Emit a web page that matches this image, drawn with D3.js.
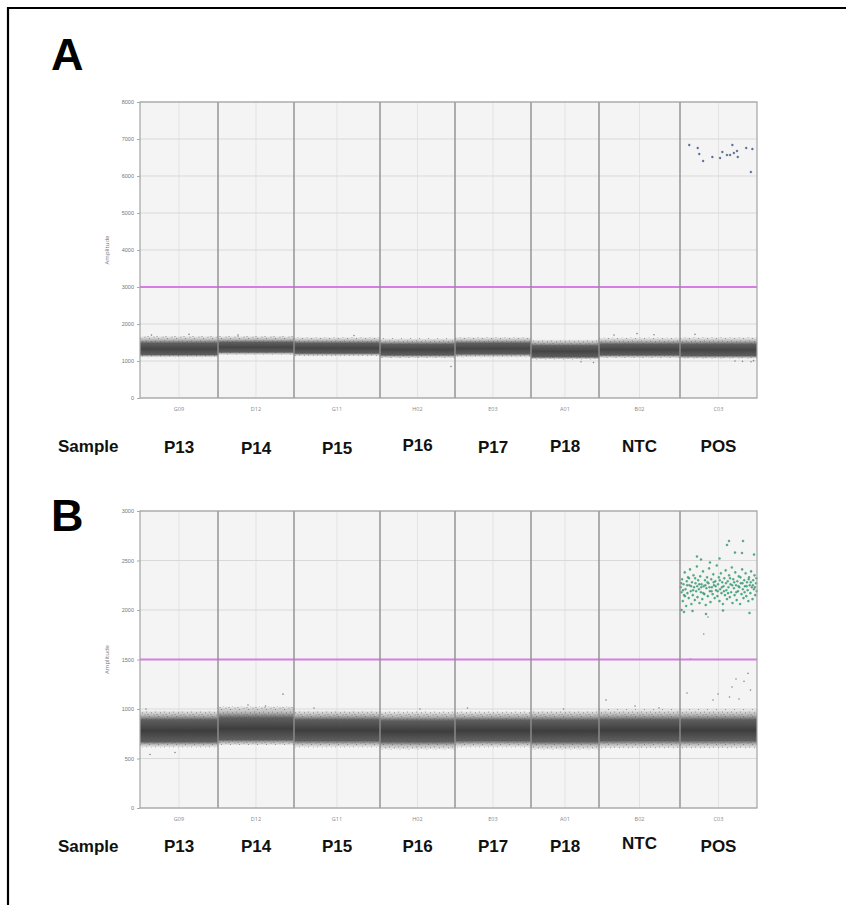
<!DOCTYPE html>
<html>
<head>
<meta charset="utf-8">
<script src="https://cdn.jsdelivr.net/npm/d3@7"></script>
<style>
  body { margin: 0; background: #fff; }
  svg { display: block; }
</style>
</head>
<body>
<div id="chart"></div>
<script>
// wells on the x axis (droplet event counts per well)
const wells = ['G09', 'D12', 'G11', 'H02', 'E03', 'A01', 'B02', 'C03'];
const samples = ['P13', 'P14', 'P15', 'P16', 'P17', 'P18', 'NTC', 'POS'];
const eventCounts = [15600, 15200, 17200, 15000, 15200, 13600, 16200, 15400];

// panel A: negative droplet band per well [low, coreLow, coreHigh, high]
const bandA = [
  [1100, 1170, 1480, 1680], [1160, 1240, 1500, 1680], [1130, 1210, 1480, 1650],
  [1080, 1160, 1450, 1620], [1100, 1190, 1480, 1650], [1040, 1110, 1410, 1590],
  [1080, 1160, 1450, 1640], [1060, 1140, 1450, 1650]
];
const thresholdA = 3000;
const yTicksA = [0, 1000, 2000, 3000, 4000, 5000, 6000, 7000, 8000];
// positive droplets in POS well (event number inside well, amplitude)
const positivesA = [
  [1850, 6838], [3540, 6757], [3850, 6595], [4620, 6405], [6470, 6514], [8010, 6486],
  [8470, 6649], [9390, 6568], [10010, 6568], [10470, 6838], [10780, 6622], [11400, 6676],
  [11550, 6514], [13240, 6757], [14480, 6730], [14170, 6108]
];
// stray negatives (well index, event number inside well, amplitude)
const strayA = [
  [0, 2300, 1700], [0, 9800, 1720], [1, 4000, 1700], [2, 12000, 1690], [3, 14200, 850],
  [5, 12500, 960], [5, 10000, 980], [6, 7600, 1740], [6, 11000, 1710], [6, 3000, 1700],
  [7, 3000, 1720], [7, 11000, 1000], [7, 12500, 990], [7, 14200, 980], [7, 14700, 1010]
];

// panel B
const bandB = [
  [610, 670, 890, 990], [630, 690, 910, 1030], [610, 680, 890, 990],
  [590, 670, 880, 980], [610, 680, 885, 980], [590, 670, 885, 990],
  [600, 680, 890, 1000], [600, 680, 890, 1000]
];
const thresholdB = 1500;
const yTicksB = [0, 500, 1000, 1500, 2000, 2500, 3000];
const positivesB = [
  [150,2230],[300,2180],[420,2310],[560,2090],[700,2260],[820,2150],[950,2380],[1100,2210],
  [1230,2040],[1350,2290],[1480,2170],[1600,2330],[1750,2120],[1880,2250],[2000,2410],[2150,2190],
  [2280,2060],[2400,2280],[2550,2150],[2700,2350],[2820,2230],[2960,2100],[3100,2270],[3230,2190],
  [3370,2440],[3500,2130],[3640,2300],[3780,2210],[3900,2070],[4050,2340],[4180,2180],[4320,2260],
  [4460,2110],[4600,2390],[4730,2240],[4870,2160],[5000,2300],[5150,2050],[5280,2220],[5420,2330],
  [5560,2140],[5700,2270],[5830,2420],[5970,2190],[6100,2080],[6250,2310],[6380,2230],[6520,2160],
  [6660,2360],[6800,2250],[6930,2120],[7070,2290],[7200,2200],[7350,2450],[7480,2140],[7620,2260],
  [7760,2330],[7900,2090],[8030,2210],[8170,2370],[8300,2170],[8450,2280],[8580,2060],[8720,2240],
  [8860,2320],[9000,2150],[9130,2400],[9270,2200],[9400,2110],[9550,2290],[9680,2230],[9820,2350],
  [9960,2130],[10100,2260],[10230,2180],[10370,2430],[10500,2070],[10650,2310],[10780,2220],[10920,2150],
  [11060,2380],[11200,2250],[11330,2100],[11470,2290],[11600,2190],[11750,2340],[11880,2230],[12020,2060],
  [12160,2270],[12300,2160],[12430,2410],[12570,2210],[12700,2120],[12850,2300],[12980,2240],[13120,2370],
  [13260,2140],[13400,2280],[13530,2200],[13670,2090],[13810,2330],[13950,2250],[14080,2170],[14220,2390],
  [14360,2230],[14500,2110],[14630,2300],[14770,2210],[14900,2350],[15050,2150],[15200,2270],[15330,2190],
  [230,2270],[610,2200],[1000,2140],[1420,2250],[1820,2320],[2230,2240],[2620,2200],[3030,2320],
  [3440,2240],[3850,2260],[4250,2230],[4660,2170],[5070,2250],[5490,2280],[5900,2230],[6310,2190],
  [6730,2280],[7140,2240],[7550,2190],[7960,2300],[8380,2230],[8790,2190],[9200,2270],[9610,2170],
  [10020,2320],[10440,2250],[10850,2280],[11260,2180],[11680,2240],[12090,2330],[12500,2270],[12920,2180],
  [13330,2240],[13740,2310],[14150,2280],[14570,2250],[14980,2230],[15280,2320],
  [3400,2540],[4200,2510],[9800,2697],[12600,2697],[9400,2657],[11000,2580],[12400,2576],[6000,2480],
  [14800,2560],[7900,2520],[800,1980],[2500,1990],[5200,1960],[8600,1995],[13900,1970],[300,2000]
];
const strayB = [
  [0, 2000, 540], [0, 7000, 560], [0, 1200, 1000], [1, 13000, 1150], [1, 6000, 1040],
  [1, 9500, 1030], [2, 4000, 1010], [3, 8000, 1000], [4, 2500, 1010], [5, 6500, 1000],
  [6, 1400, 1090], [6, 7200, 1030], [6, 12000, 1010],
  [7, 5600, 1929], [7, 4750, 1758], [7, 2100, 1505], [7, 11200, 1303], [7, 10400, 1222],
  [7, 14100, 1192], [7, 1400, 1162], [7, 7600, 1152], [7, 11800, 1101], [7, 9900, 1121],
  [7, 6600, 1091], [7, 13600, 1360], [7, 12800, 1280]
];

const W = 846, H = 905;
const left = 140, right = 757;

const svg = d3.select('#chart').append('svg')
  .attr('width', W).attr('height', H)
  .style('font-family', '"Open Sans", sans-serif');

// frame
svg.append('path')
  .attr('d', 'M8,' + H + ' V8 H' + W)
  .attr('fill', 'none').attr('stroke', '#000').attr('stroke-width', 2.2);

const defs = svg.append('defs');
const speck = defs.append('pattern').attr('id', 'speck')
  .attr('patternUnits', 'userSpaceOnUse').attr('width', 9).attr('height', 7);
[[1, 1], [5.5, 2.5], [2.5, 5], [7.5, 5.8], [4, 0.3]].forEach(p => {
  speck.append('circle').attr('cx', p[0]).attr('cy', p[1]).attr('r', 0.6).attr('fill', '#777');
});

const starts = [];
eventCounts.reduce((acc, c) => { starts.push(acc); return acc + c; }, 0);
const total = d3.sum(eventCounts);
const x = d3.scaleLinear().domain([0, total]).range([left, right]);

function panel(cfg) {
  const y = d3.scaleLinear().domain([0, cfg.max]).range([cfg.bottom, cfg.top]);
  const g = svg.append('g');

  g.append('rect').attr('x', left).attr('y', cfg.top)
    .attr('width', right - left).attr('height', cfg.bottom - cfg.top)
    .attr('fill', '#f4f4f4');

  // faint vertical grid at well centres
  g.selectAll('.vg').data(wells).enter().append('line')
    .attr('x1', (d, i) => x(starts[i] + eventCounts[i] / 2))
    .attr('x2', (d, i) => x(starts[i] + eventCounts[i] / 2))
    .attr('y1', cfg.top).attr('y2', cfg.bottom)
    .attr('stroke', '#e3e3e3').attr('stroke-width', 1);

  g.selectAll('.hg').data(cfg.ticks).enter().append('line')
    .attr('x1', left).attr('x2', right)
    .attr('y1', d => y(d)).attr('y2', d => y(d))
    .attr('stroke', '#d9d9d9').attr('stroke-width', 1);

  // droplet bands
  cfg.band.forEach((b, i) => {
    const gid = 'grad' + cfg.name + i;
    const span = b[3] - b[0];
    const gr = defs.append('linearGradient').attr('id', gid)
      .attr('x1', 0).attr('y1', 0).attr('x2', 0).attr('y2', 1);
    const o1 = (b[3] - b[2]) / span, o2 = (b[3] - b[1]) / span;
    gr.append('stop').attr('offset', 0).attr('stop-color', '#5a5a5a').attr('stop-opacity', 0);
    gr.append('stop').attr('offset', o1 * 0.55).attr('stop-color', '#5a5a5a').attr('stop-opacity', 0.4);
    gr.append('stop').attr('offset', o1).attr('stop-color', '#4e4e4e').attr('stop-opacity', 0.9);
    gr.append('stop').attr('offset', (o1 + o2) / 2).attr('stop-color', cfg.coreColor).attr('stop-opacity', 1);
    gr.append('stop').attr('offset', o2).attr('stop-color', '#4e4e4e').attr('stop-opacity', 0.9);
    gr.append('stop').attr('offset', o2 + (1 - o2) * 0.45).attr('stop-color', '#5a5a5a').attr('stop-opacity', 0.4);
    gr.append('stop').attr('offset', 1).attr('stop-color', '#5a5a5a').attr('stop-opacity', 0);

    const x0 = x(starts[i]), x1 = x(starts[i] + eventCounts[i]);
    g.append('rect').attr('x', x0).attr('width', x1 - x0)
      .attr('y', y(b[3])).attr('height', y(b[0]) - y(b[3]))
      .attr('fill', 'url(#speck)').attr('opacity', 0.8);
    g.append('rect').attr('x', x0).attr('width', x1 - x0)
      .attr('y', y(b[3])).attr('height', y(b[0]) - y(b[3]))
      .attr('fill', 'url(#' + gid + ')');
  });

  g.selectAll('.stray').data(cfg.stray).enter().append('circle')
    .attr('cx', d => x(starts[d[0]] + d[1])).attr('cy', d => y(d[2]))
    .attr('r', 0.8).attr('fill', '#888');

  const pos = wells.length - 1;
  g.selectAll('.pos').data(cfg.positives).enter().append('circle')
    .attr('cx', d => x(starts[pos] + d[0])).attr('cy', d => y(d[1]))
    .attr('r', cfg.dotR).attr('fill', cfg.dotFill)
    .attr('stroke', cfg.dotStroke).attr('stroke-width', 0.3);

  // threshold
  g.append('line').attr('x1', left).attr('x2', right)
    .attr('y1', y(cfg.threshold)).attr('y2', y(cfg.threshold))
    .attr('stroke', '#d47de2').attr('stroke-width', 2);

  // well dividers
  g.selectAll('.div').data(starts.slice(1)).enter().append('line')
    .attr('x1', d => x(d)).attr('x2', d => x(d))
    .attr('y1', cfg.top).attr('y2', cfg.bottom)
    .attr('stroke', '#8e8e8e').attr('stroke-width', 1.4);

  g.append('rect').attr('x', left).attr('y', cfg.top)
    .attr('width', right - left).attr('height', cfg.bottom - cfg.top)
    .attr('fill', 'none').attr('stroke', '#a3a3a3').attr('stroke-width', 1.2);

  // y axis
  const yAxis = d3.axisLeft(y).tickValues(cfg.ticks).tickFormat(d3.format('d'))
    .tickSize(3).tickPadding(3);
  const ya = g.append('g').attr('transform', 'translate(' + left + ',0)').call(yAxis);
  ya.select('.domain').remove();
  ya.selectAll('line').attr('stroke', '#aaa');
  ya.selectAll('text').attr('fill', '#777').style('font-size', '5.5px');

  g.append('text')
    .attr('transform', 'translate(109,' + ((cfg.top + cfg.bottom) / 2) + ') rotate(-90)')
    .attr('text-anchor', 'middle').attr('fill', '#777').style('font-size', '6px')
    .text('Amplitude');

  // well labels
  g.selectAll('.wl').data(wells).enter().append('text')
    .attr('x', (d, i) => x(starts[i] + eventCounts[i] / 2))
    .attr('y', cfg.bottom + 13)
    .attr('text-anchor', 'middle').attr('fill', '#888').style('font-size', '5.5px')
    .text(d => d);

  // sample row
  const sg = g.append('g')
    .style('font-family', '"Liberation Sans", Arial, sans-serif')
    .style('font-weight', 'bold').style('font-size', '17px').attr('fill', '#111');
  sg.append('text').attr('x', 58).attr('y', cfg.sampleY).text('Sample');
  sg.selectAll('.sl').data(samples).enter().append('text')
    .attr('x', (d, i) => x(starts[i] + eventCounts[i] / 2))
    .attr('y', (d, i) => cfg.sampleY + cfg.sampleDy[i])
    .attr('text-anchor', 'middle').text(d => d);

  svg.append('text').attr('x', 51).attr('y', cfg.letterY)
    .style('font-family', '"Liberation Sans", Arial, sans-serif')
    .style('font-weight', 'bold').style('font-size', '45px')
    .text(cfg.name);
}

panel({
  name: 'A', top: 102, bottom: 398, max: 8000, ticks: yTicksA, band: bandA,
  threshold: thresholdA, positives: positivesA, stray: strayA,
  dotR: 1.0, dotFill: '#56709a', dotStroke: '#34476a', coreColor: '#444',
  sampleY: 452, sampleDy: [1, 2, 2, -1, 1, 0, 0, 0], letterY: 70
});
panel({
  name: 'B', top: 511, bottom: 808, max: 3000, ticks: yTicksB, band: bandB,
  threshold: thresholdB, positives: positivesB, stray: strayB,
  dotR: 1.05, dotFill: '#4cb387', dotStroke: '#2a7a56', coreColor: '#3d3d3d',
  sampleY: 852, sampleDy: [0, 0, 0, 0, 0, 0, -3, 0], letterY: 531
});
</script>
</body>
</html>
